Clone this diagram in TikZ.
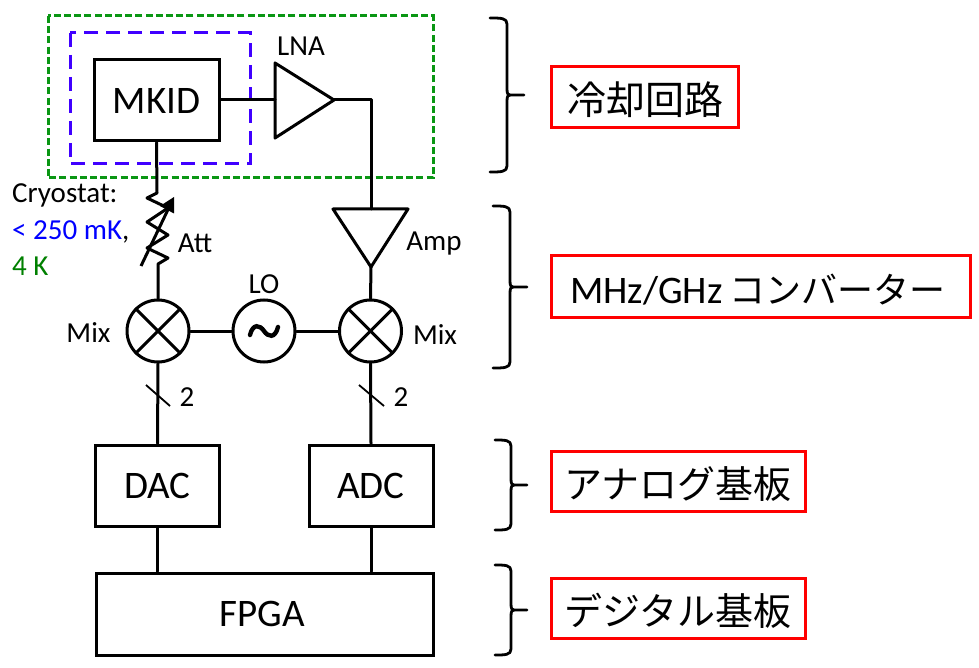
\documentclass[tikz,border=0pt]{standalone}
\usepackage{fontspec}
\usetikzlibrary{calc}
\setmainfont{Carlito}
\newfontfamily\cjk{Noto Sans CJK JP}
\definecolor{dgreen}{RGB}{10,150,20}
\definecolor{tgreen}{RGB}{0,128,0}
\definecolor{dblue}{RGB}{64,0,255}
\definecolor{tblue}{RGB}{0,0,255}
\tikzset{
 x=1pt,y=-1pt,
 wire/.style={line width=3pt,black,line cap=round,line join=round},
 blk/.style={draw,line width=3pt,rectangle,minimum width=#1,inner sep=0pt,anchor=center},
 amp/.style={wire,fill=white},
 mixc/.style={draw,line width=3pt,circle,minimum size=62pt,inner sep=0pt,fill=white},
 lab/.style={inner sep=0pt,font=\fontsize{29}{29}\selectfont,text=black},
 big/.style={inner sep=0pt,font=\fontsize{39}{39}\selectfont,text=black},
 tag/.style={draw=red,line width=3pt,rectangle,inner sep=0pt},
 tagtext/.style={inner sep=0pt,font=\fontsize{#1}{#1}\selectfont},
 brace/.style={line width=2.8pt,black,line cap=round,line join=round},
}
\newcommand{\bracket}[6]{% x0 xv y0 ym y1 xt
 \draw[brace] (#1,#3) .. controls (#2-6,#3) and (#2,#3) .. (#2,#3+6) -- (#2,#4-6)
   .. controls (#2,#4-1) and (#2+1,#4) .. (#2+3,#4) -- (#6,#4);
 \draw[brace] (#2+3,#4) .. controls (#2+1,#4) and (#2,#4+1) .. (#2,#4+6) -- (#2,#5-6)
   .. controls (#2,#5) and (#2-6,#5) .. (#1,#5);
}
\begin{document}
\begin{tikzpicture}
\useasboundingbox (0,0) rectangle (979,668);
\fill[white] (0,0) rectangle (979,668);
% cryostat boxes
\draw[dgreen,line width=3pt,dash pattern=on 7pt off 3.2pt] (48,16) rectangle (433,178);
\draw[dblue,line width=3pt,dash pattern=on 14pt off 8pt] (70,33) rectangle (250,164);
% named anchors
\coordinate (lnaA) at (275,63); \coordinate (lnaB) at (275,138); \coordinate (lnaO) at (334,100);
\coordinate (lnaI) at (275,100);
\coordinate (ampA) at (333,209); \coordinate (ampB) at (408,209); \coordinate (ampO) at (371,267);
\coordinate (ampI) at (371,209); \coordinate (lnaC) at (371,100);
\coordinate (attT) at (157,193); \coordinate (attB) at (158,264);
\coordinate (arrS) at (141,266); \coordinate (arrE) at (174,197);
% blocks
\node[blk=125pt,minimum height=81pt,big] (mkid) at (156.5,100.5) {\raisebox{0pt}{MKID}};
\node[blk=124pt,minimum height=81pt,big] (dac) at (157.5,485.5) {DAC};
\node[blk=124pt,minimum height=81pt,big] (adc) at (371,485.5) {ADC};
\node[blk=337pt,minimum height=82pt] (fpga) at (264.5,614) {};
\node[big] (fpgat) at (262,614) {FPGA};
\node[mixc] (mixL) at (158,331) {};
\node[mixc] (mixR) at (370.5,331) {};
\node[mixc] (lo) at (264,331) {};
% triangles
\draw[amp] (lnaA) -- (lnaO) -- (lnaB) -- cycle;
\draw[amp] (ampA) -- (ampB) -- (ampO) -- cycle;
% X in mixers
\foreach \m in {mixL,mixR}{
 \draw[wire,line cap=butt] (\m.45) -- (\m.225);
 \draw[wire,line cap=butt] (\m.135) -- (\m.315);
}
% tilde
\draw[line width=4.4pt,line cap=round] ([shift={(-14,4)}]lo.center) .. controls ([shift={(-11,-8)}]lo.center) and ([shift={(-4,-6)}]lo.center) .. (lo.center) .. controls ([shift={(4,6)}]lo.center) and ([shift={(11,8)}]lo.center) .. ([shift={(14,-4)}]lo.center);
% connectors
\draw[wire] (mkid.east |- lnaI) -- (lnaI);
\draw[wire] (lnaO) -- (lnaC) -- (ampI);
\draw[wire] (mkid.south) -- (attT) -- ++(-10,5) -- ++(21,10) -- ++(-21,14) -- ++(21,13) -- ++(-21,13) -- ++(21,10) -- (attB) -- (mixL.north);
\draw[wire,line cap=butt] (arrS) -- ($(arrS)!0.82!(arrE)$);
\fill (arrE) -- (160,206) -- (174,213.5) -- cycle;
\draw[wire] (ampO) -- (mixR.north);
\draw[wire] (mixL.east) -- (lo.west);
\draw[wire] (lo.east) -- (mixR.west);
\draw[wire] (mixL.south) -- (dac.north);
\draw[wire] (mixR.south) -- (adc.north);
\draw[wire] (dac.south) -- (dac.south |- fpga.north);
\draw[wire] (adc.south) -- (adc.south |- fpga.north);
% bus ticks
\coordinate (tL1) at (146,385); \coordinate (tL2) at (170,406);
\coordinate (tR1) at (359,385); \coordinate (tR2) at (384,406);
\draw[line width=1.8pt] (tL1) -- (tL2);
\draw[line width=1.8pt] (tR1) -- (tR2);
% labels
\node[lab] (lna) at (301,46) {LNA};
\node[lab] (att) at (195,243) {Att};
\node[lab] (ampl) at (434,244) {Amp};
\node[lab] (lol) at (264,284) {LO};
\node[lab] (mixlL) at (88.5,333) {Mix};
\node[lab] (mixlR) at (435,335) {Mix};
\node[lab] (n2L) at (187,397) {2};
\node[lab] (n2R) at (401,397) {2};
\node[lab,anchor=west] (cry) at (12,195) {Cryostat:};
\node[lab,anchor=west] (c2) at (12,232) {\textcolor{tblue}{< 250 mK},};
\node[lab,anchor=west,text=tgreen] (c3) at (12,266) {4 K};
% tags
\node[tag,minimum width=187pt,minimum height=61pt] (t1) at (644.5,97.5) {};
\node[tag,minimum width=419pt,minimum height=61pt] (t2) at (760.5,286.5) {};
\node[tag,minimum width=254pt,minimum height=60pt] (t3) at (678,481) {};
\node[tag,minimum width=254pt,minimum height=60pt] (t4) at (678,608) {};
\node[tagtext=39] (t1t) at (645.5,100) {\cjk 冷却回路};
\node[tagtext=39,anchor=west] (t2t) at (570,290) {MHz/GHz\,\fontsize{36}{36}\selectfont{\cjk コンバーター}};
\node[tagtext=38] (t3t) at (678,484) {\cjk アナログ基板};
\node[tagtext=38] (t4t) at (678,611) {\cjk デジタル基板};
% brackets
\bracket{490}{507}{18}{95}{172}{524}
\bracket{493}{510}{206}{287}{368}{527}
\bracket{495}{511}{440}{485}{530}{527}
\bracket{495}{511}{565}{610}{655}{527}
\end{tikzpicture}
\end{document}
